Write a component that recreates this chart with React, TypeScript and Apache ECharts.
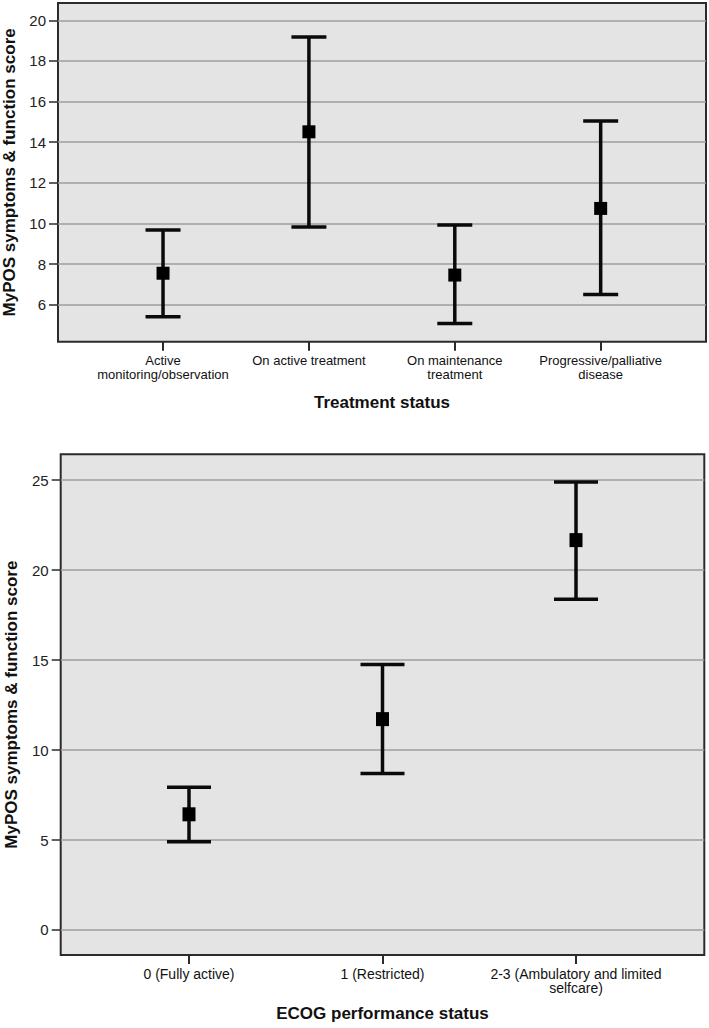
import React, { useEffect, useRef } from "react";
import * as echarts from "echarts";

const treatmentCategories = [
  "Active\nmonitoring/observation",
  "On active treatment",
  "On maintenance\ntreatment",
  "Progressive/palliative\ndisease",
];
const treatmentMean = [7.55, 14.51, 7.46, 10.74];
const treatmentLower = [5.41, 9.83, 5.07, 6.5];
const treatmentUpper = [9.68, 19.18, 9.92, 15.04];
const treatmentTicks = [6, 8, 10, 12, 14, 16, 18, 20];

const ecogCategories = [
  "0 (Fully active)",
  "1 (Restricted)",
  "2-3 (Ambulatory and limited\nselfcare)",
];
const ecogMean = [6.43, 11.72, 21.67];
const ecogLower = [4.91, 8.7, 18.39];
const ecogUpper = [7.93, 14.76, 24.9];
const ecogTicks = [0, 5, 10, 15, 20, 25];

const yTitle = "MyPOS symptoms & function score";
const xTitleTop = "Treatment status";
const xTitleBottom = "ECOG performance status";

const FONT = "'Liberation Sans', Arial, Helvetica, sans-serif";
const INK = "#111111";

export default function App() {
  const ref = useRef<HTMLDivElement>(null);

  useEffect(() => {
    if (!ref.current) return;
    const chart = echarts.init(ref.current, null, { renderer: "svg" });

    const makeErrorBar = (capHalf: number) => (params: any, api: any) => {
      const x = api.value(0);
      const lo = api.coord([x, api.value(1)]);
      const hi = api.coord([x, api.value(2)]);
      const style = { stroke: "#0a0a0a", lineWidth: 3.5 };
      return {
        type: "group",
        children: [
          { type: "line", shape: { x1: lo[0], y1: lo[1], x2: hi[0], y2: hi[1] }, style },
          { type: "line", shape: { x1: lo[0] - capHalf, y1: lo[1], x2: lo[0] + capHalf, y2: lo[1] }, style },
          { type: "line", shape: { x1: hi[0] - capHalf, y1: hi[1], x2: hi[0] + capHalf, y2: hi[1] }, style },
        ],
      };
    };

    const gridCommon = {
      show: true,
      backgroundColor: "#e4e4e4",
      borderColor: "#2b2b2b",
      borderWidth: 2,
      containLabel: false,
      outerBoundsMode: "none",
    };

    const xAxisCommon = (cats: string[], gap: number, name: string, min: number, max: number, gridIndex: number, fontSize: number) => ({
      type: "value",
      gridIndex,
      position: "bottom",
      min,
      max,
      name,
      nameLocation: "middle",
      nameGap: gap,
      nameTextStyle: { fontFamily: FONT, fontSize: 17, fontWeight: "bold", color: INK },
      axisLine: { show: false, onZero: false },
      splitLine: { show: false },
      axisTick: {
        show: true,
        customValues: cats.map((_, i) => i),
        length: 9,
        lineStyle: { color: "#2b2b2b", width: 2 },
      },
      axisLabel: {
        customValues: cats.map((_, i) => i),
        formatter: (v: number) => cats[Math.round(v)] ?? "",
        margin: 12,
        fontFamily: FONT,
        fontSize,
        lineHeight: 14,
        color: INK,
        align: "center",
      },
    });

    const yAxisCommon = (ticks: number[], min: number, max: number, gap: number, gridIndex: number, fontSize: number) => ({
      type: "value",
      gridIndex,
      position: "left",
      min,
      max,
      name: yTitle,
      nameLocation: "middle",
      nameGap: gap,
      nameTextStyle: { fontFamily: FONT, fontSize: 17, fontWeight: "bold", color: INK },
      axisLine: { show: false, onZero: false },
      axisTick: {
        show: true,
        customValues: ticks,
        length: 9,
        lineStyle: { color: "#2b2b2b", width: 1.5 },
      },
      axisLabel: {
        customValues: ticks,
        margin: 12,
        fontFamily: FONT,
        fontSize,
        color: "#222222",
      },
      splitLine: {
        show: true,
        lineStyle: { color: "#9e9e9e", width: 1.5 },
      },
    });

    chart.setOption({
      animation: false,
      grid: [
        { ...gridCommon, left: 58, top: 3, right: 3, bottom: 1028 - 341.7 },
        { ...gridCommon, left: 60.7, top: 454.3, right: 4.7, bottom: 73 },
      ],
      xAxis: [
        xAxisCommon(treatmentCategories, 52, xTitleTop, -0.72, 3.722, 0, 13),
        xAxisCommon(ecogCategories, 50, xTitleBottom, -0.663, 2.663, 1, 14),
      ],
      yAxis: [
        yAxisCommon(treatmentTicks, 4.18, 20.85, 38, 0, 15),
        yAxisCommon(ecogTicks, -1.39, 26.44, 40.7, 1, 15),
      ],
      series: [
        {
          type: "custom",
          xAxisIndex: 0,
          yAxisIndex: 0,
          renderItem: makeErrorBar(17.5),
          encode: { x: 0, y: [1, 2] },
          data: treatmentCategories.map((_, i) => [i, treatmentLower[i], treatmentUpper[i]]),
          z: 3,
        },
        {
          type: "scatter",
          xAxisIndex: 0,
          yAxisIndex: 0,
          symbol: "rect",
          symbolSize: [13, 13],
          itemStyle: { color: "#000000", opacity: 1 },
          data: treatmentMean.map((m, i) => [i, m]),
          z: 4,
        },
        {
          type: "custom",
          xAxisIndex: 1,
          yAxisIndex: 1,
          renderItem: makeErrorBar(22),
          encode: { x: 0, y: [1, 2] },
          data: ecogCategories.map((_, i) => [i, ecogLower[i], ecogUpper[i]]),
          z: 3,
        },
        {
          type: "scatter",
          xAxisIndex: 1,
          yAxisIndex: 1,
          symbol: "rect",
          symbolSize: [13, 14],
          itemStyle: { color: "#000000", opacity: 1 },
          data: ecogMean.map((m, i) => [i, m]),
          z: 4,
        },
      ],
    });

    return () => chart.dispose();
  }, []);

  return (
    <div
      ref={ref}
      style={{ position: "absolute", left: 0, top: 0, width: 709, height: 1028, background: "#ffffff" }}
    />
  );
}
